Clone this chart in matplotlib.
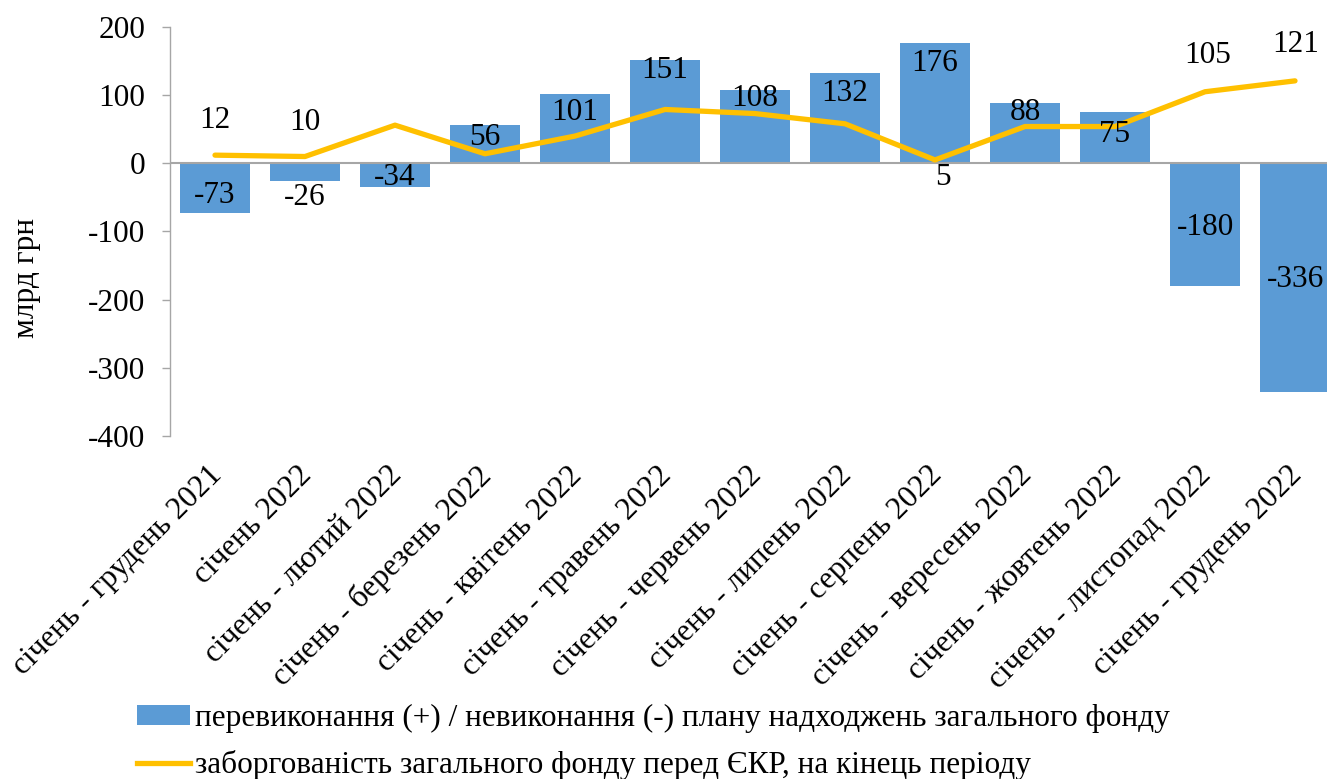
import matplotlib
matplotlib.use("Agg")
import matplotlib.pyplot as plt
import matplotlib.transforms as mtransforms
from matplotlib.patches import Patch
from matplotlib.lines import Line2D

categories = [
    "січень - грудень 2021", "січень 2022", "січень - лютий 2022",
    "січень - березень 2022", "січень - квітень 2022", "січень - травень 2022",
    "січень - червень 2022", "січень - липень 2022", "січень - серпень 2022",
    "січень - вересень 2022", "січень - жовтень 2022", "січень - листопад 2022",
    "січень - грудень 2022",
]
bar_values = [-73, -26, -34, 56, 101, 151, 108, 132, 176, 88, 75, -180, -336]
line_values = [12, 10, 56, 14, 40, 79, 73, 58, 5, 54, 54, 105, 121]
bar_name = "перевиконання (+) / невиконання (-) плану надходжень загального фонду"
line_name = "заборгованість загального фонду перед ЄКР, на кінець періоду"
y_ticks = [200, 100, 0, -100, -200, -300, -400]
y_label = "млрд грн"

# label placement (data units), kept apart from the data
bar_label_y = [-47, -50, -21, 38, 74, 136, 95, 102, 146, 74, 43, -94, -170]
line_label_idx = [0, 1, 8, 11, 12]
line_label_y = [63, 60, -21, 158, 175]
line_label_dx = [0, 0, 0.09, 0.03, 0.01]

plt.rcParams['font.family'] = ['Liberation Serif', 'DejaVu Serif']
FS = 22.5

W, H = 1327, 779
fig = plt.figure(figsize=(W / 100, H / 100), dpi=100)
ax = fig.add_axes([170 / W, 1 - 436 / H, 1 - 170 / W, (436 - 27) / H])

x = list(range(len(categories)))
bar_color = "#5B9BD5"
line_color = "#FFC000"
grey = "#A6A6A6"

ax.bar(x, bar_values, width=0.77, color=bar_color, zorder=2)
ax.axhline(0, color=grey, lw=1.5, zorder=3)
ax.plot(x, line_values, color=line_color, lw=3.8, zorder=4,
        solid_capstyle='round', solid_joinstyle='round')

for xi, v, ly in zip(x, bar_values, bar_label_y):
    ax.text(xi, ly, str(v), ha='center', va='center', fontsize=FS, zorder=5)
for i, ly, dx in zip(line_label_idx, line_label_y, line_label_dx):
    ax.text(i + dx, ly, str(line_values[i]), ha='center', va='center',
            fontsize=FS, zorder=5)

ax.set_xlim(-0.5, -0.5 + (W - 170) / 90)
ax.set_ylim(-400, 200)
ax.set_yticks(y_ticks)
ax.set_yticklabels([str(t) for t in y_ticks], fontsize=FS)
ax.set_xticks(x)
ax.set_xticklabels(categories, rotation=45, ha='right', va='top',
                   rotation_mode='anchor', fontsize=FS)
ax.tick_params(axis='x', length=0, pad=18)
shift = mtransforms.ScaledTranslation(-8 / 100, 0, fig.dpi_scale_trans)
for lab in ax.get_xticklabels():
    lab.set_transform(lab.get_transform() + shift)
ax.tick_params(axis='y', length=6, width=1, color=grey, pad=12)

for s in ['top', 'right', 'bottom']:
    ax.spines[s].set_visible(False)
ax.spines['left'].set_color(grey)
ax.spines['left'].set_linewidth(1)

ax.set_ylabel(y_label, fontsize=FS)
ax.yaxis.set_label_coords((41 - 170) / (W - 170), 1 - (278 - 27) / (436 - 27))

handles = [Patch(facecolor=bar_color, edgecolor='none'),
           Line2D([0], [0], color=line_color, lw=3.8)]
fig.legend(handles, [bar_name, line_name], loc='upper left',
           bbox_to_anchor=(137 / W, 1 - 704 / H), frameon=False,
           fontsize=FS, handlelength=1.7, handleheight=0.6, handletextpad=0.16,
           borderpad=0, borderaxespad=0, labelspacing=0.55)

fig.savefig("out.png", dpi=100)
